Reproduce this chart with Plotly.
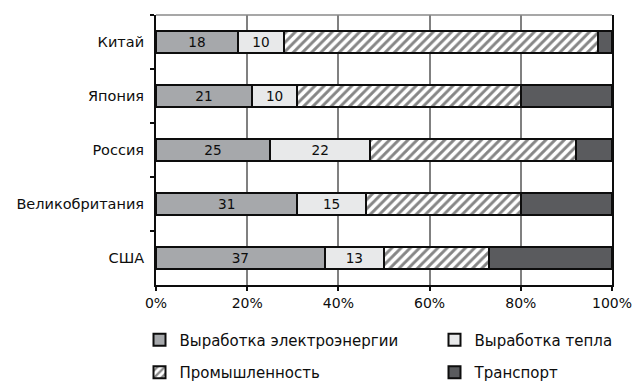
import plotly.graph_objects as go

# Structure of CO2 emissions by sector, % of total
countries = ["Китай", "Япония", "Россия", "Великобритания", "США"]
electricity = [18, 21, 25, 31, 37]
heat = [10, 10, 22, 15, 13]
industry = [69, 49, 45, 34, 23]
transport = [3, 20, 8, 20, 27]
x_ticks = [0, 20, 40, 60, 80, 100]
x_tick_labels = ["0%", "20%", "40%", "60%", "80%", "100%"]

FONT = "DejaVu Sans"
INK = "#0d0d0d"
outline = dict(color=INK, width=2)

fig = go.Figure()
fig.add_trace(go.Bar(
    name="Выработка электроэнергии", y=countries, x=electricity, orientation="h",
    marker=dict(color="#a6a8ab", line=outline),
    text=electricity, textposition="inside", insidetextanchor="middle",
    textangle=0, textfont=dict(family=FONT, size=14, color=INK),
    legend="legend",
))
fig.add_trace(go.Bar(
    name="Выработка тепла", y=countries, x=heat, orientation="h",
    marker=dict(color="#e8e9ea", line=outline),
    text=heat, textposition="inside", insidetextanchor="middle",
    textangle=0, textfont=dict(family=FONT, size=14, color=INK),
    legend="legend2",
))
fig.add_trace(go.Bar(
    name="Промышленность", y=countries, x=industry, orientation="h",
    marker=dict(color="white", line=outline,
                pattern=dict(shape="/", fgcolor=INK, bgcolor="white",
                             size=6.5, solidity=0.45)),
    legend="legend3",
))
fig.add_trace(go.Bar(
    name="Транспорт", y=countries, x=transport, orientation="h",
    marker=dict(color="#5a5b5e", line=outline),
    legend="legend4",
))

# one single-entry legend per series, laid out as a 2x2 grid under the axis
W, H = 638, 385
col_x = [139.5, 434.5]
row_y = [340, 372.5]

def legend_box(cx, cy):
    return dict(
        orientation="h", traceorder="normal",
        xref="container", yref="container",
        xanchor="left", yanchor="middle",
        x=cx / W, y=1 - cy / H,
        font=dict(family=FONT, size=15, color=INK),
        itemwidth=30, bgcolor="rgba(0,0,0,0)",
    )

fig.update_layout(
    barmode="stack",
    bargap=0.6,
    width=W, height=H,
    showlegend=True,
    margin=dict(l=156, r=26, t=15, b=100, autoexpand=False),
    paper_bgcolor="white", plot_bgcolor="white",
    font=dict(family=FONT, size=14, color=INK),
    uniformtext=dict(mode="show", minsize=10),
    legend=legend_box(col_x[0], row_y[0]),
    legend2=legend_box(col_x[1], row_y[0]),
    legend3=legend_box(col_x[0], row_y[1]),
    legend4=legend_box(col_x[1], row_y[1]),
    xaxis=dict(
        range=[0, 100], tickvals=x_ticks, ticktext=x_tick_labels,
        showgrid=True, gridcolor="#808080", gridwidth=2,
        showline=True, linecolor=INK, linewidth=2,
        ticks="outside", ticklen=4, tickcolor=INK, tickwidth=2,
        zeroline=False, fixedrange=True,
    ),
    yaxis=dict(
        autorange="reversed", showline=True, mirror=True,
        linecolor=INK, linewidth=2,
        ticks="outside", ticklen=4, tickcolor=INK, tickwidth=2,
        tickson="boundaries", showgrid=False, ticklabelstandoff=7,
        tickfont=dict(size=14.5),
    ),
    shapes=[dict(type="line", xref="paper", yref="paper", x0=0, x1=1, y0=1, y1=1,
                 line=dict(color="#8a8a8a", width=1.5))],
)

fig.write_html("out.html")
